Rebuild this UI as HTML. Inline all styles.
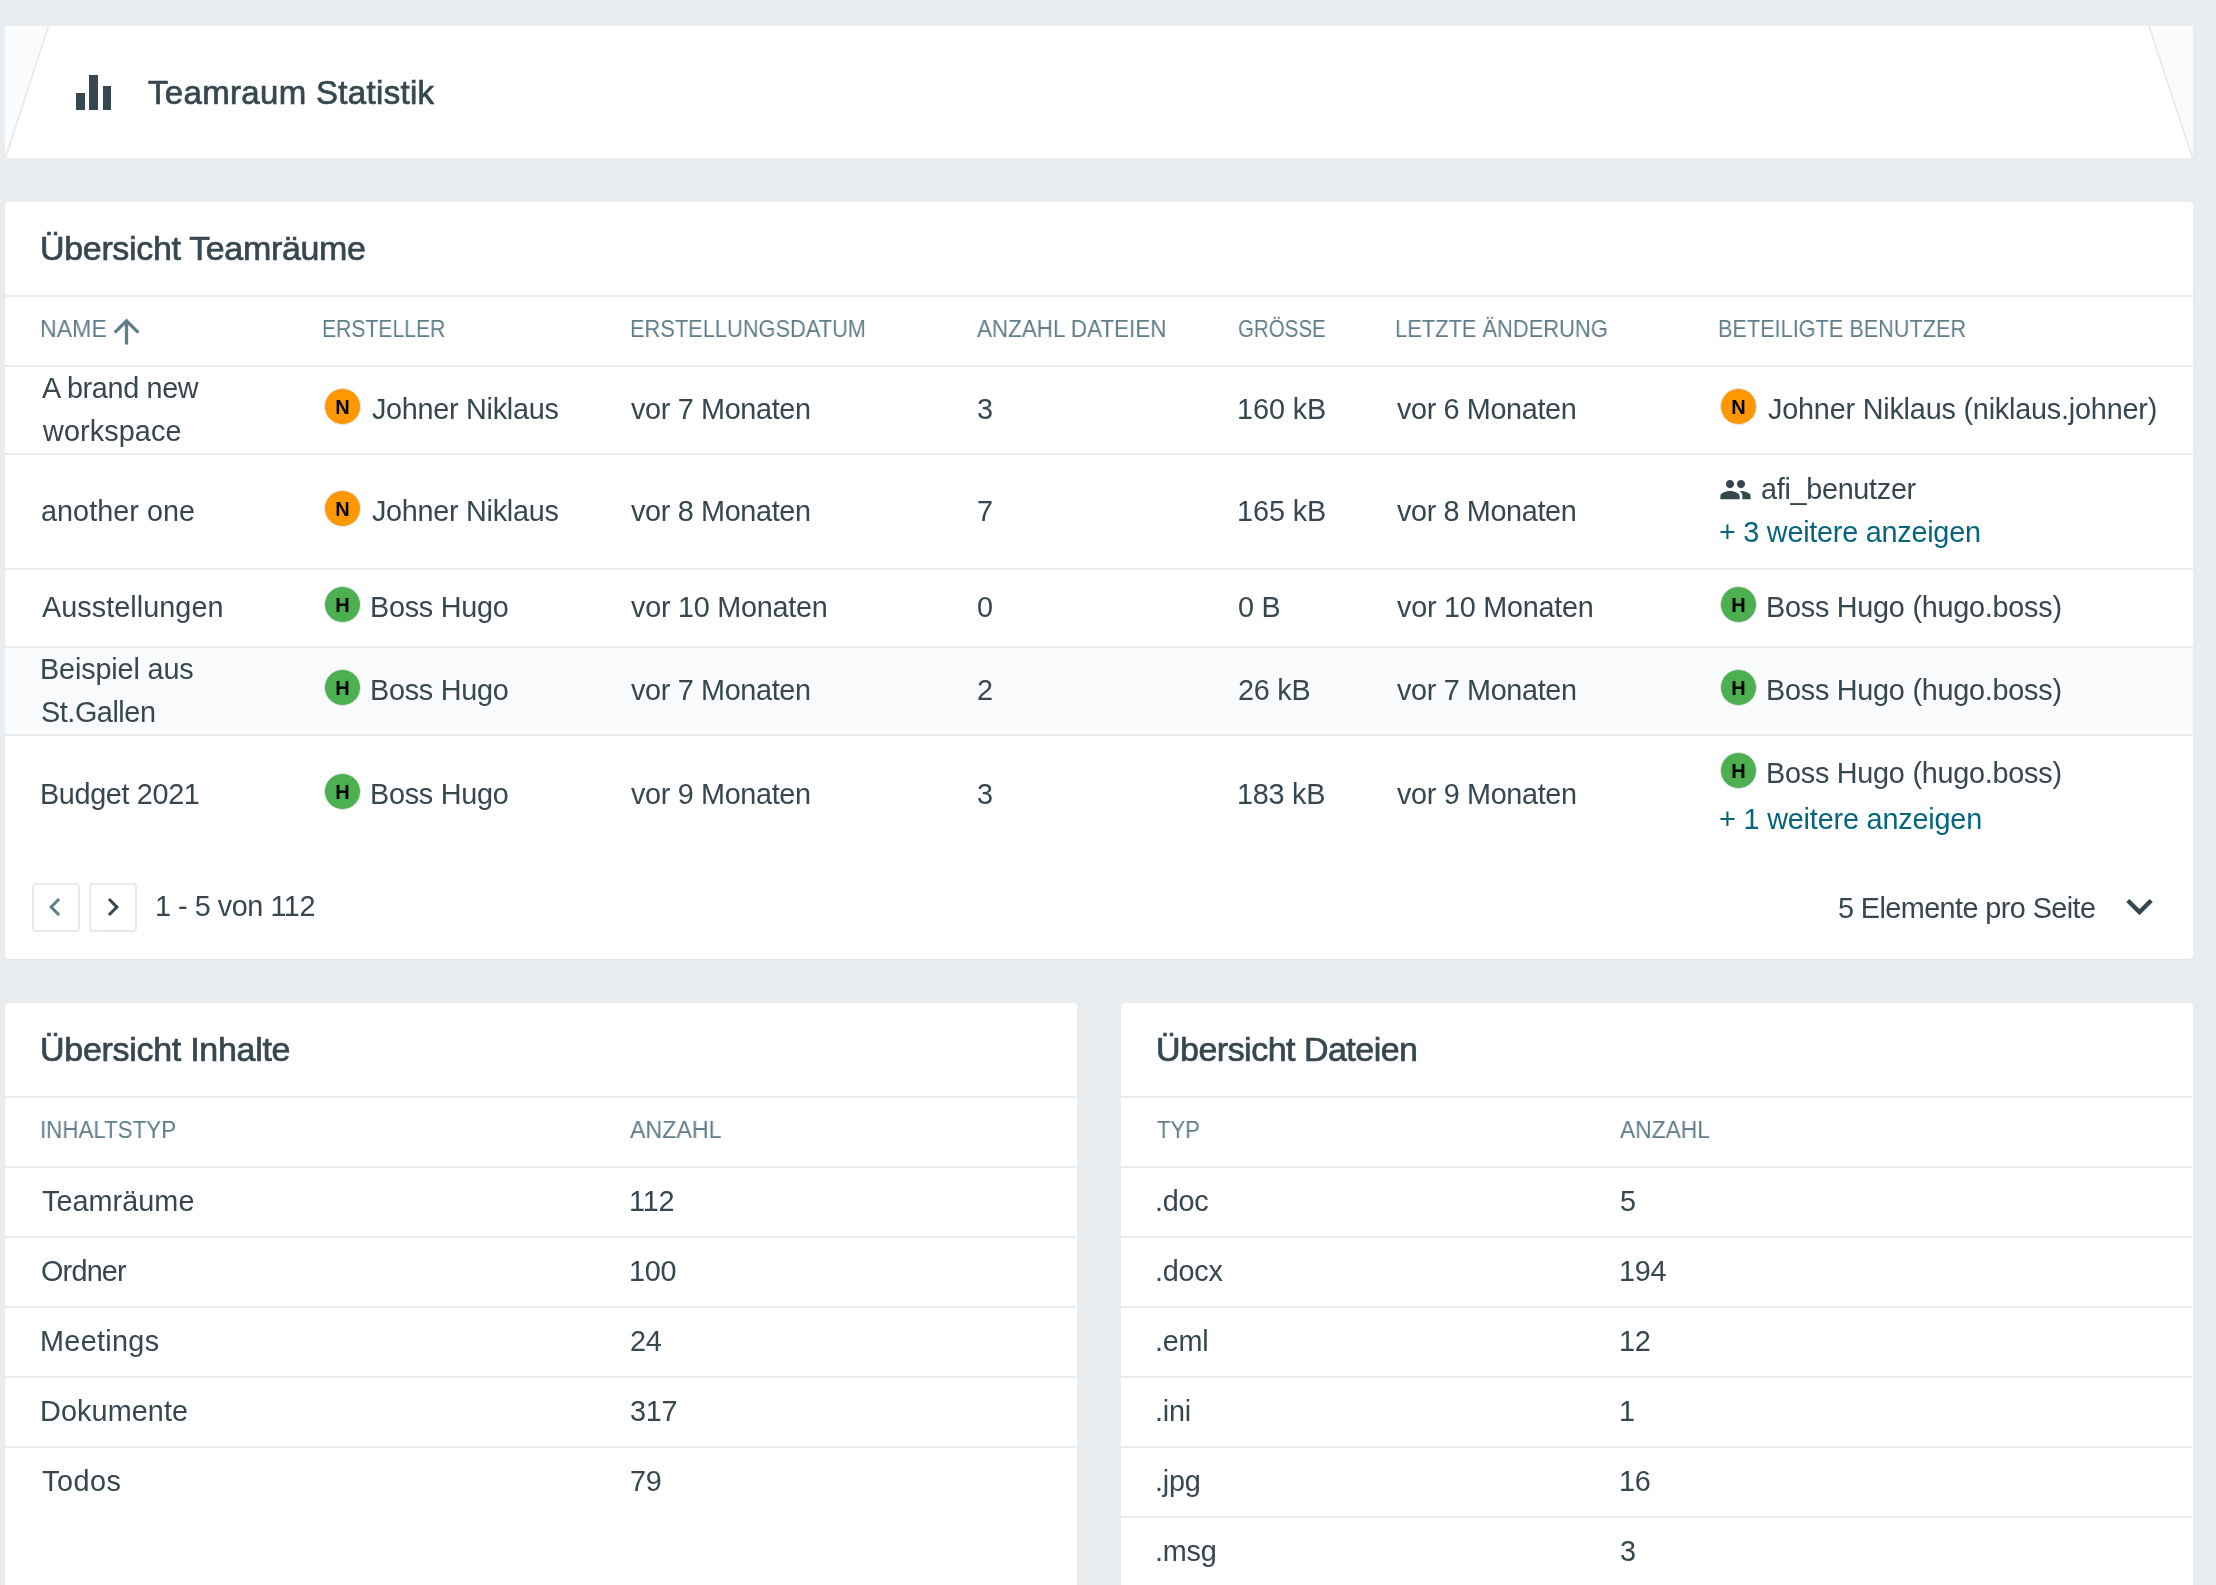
<!DOCTYPE html>
<html><head><meta charset="utf-8"><title>Teamraum Statistik</title>
<style>
html,body{margin:0;padding:0;}
body{width:2216px;height:1585px;overflow:hidden;background:#e9edf0;position:relative;font-family:"Liberation Sans",sans-serif;}
.t{position:absolute;white-space:nowrap;will-change:transform;}
.r{position:absolute;}
.ic{position:absolute;}
.card{position:absolute;background:#fff;border-radius:4px;box-shadow:0 1px 1px rgba(40,60,80,0.05);overflow:hidden;}
.av{position:absolute;width:35px;height:35px;border-radius:50%;border:1.25px solid #e3eaf1;box-sizing:content-box;background-clip:padding-box;will-change:transform;}
.av span{position:absolute;left:0;right:0;top:1px;text-align:center;font-weight:bold;font-size:20px;line-height:35px;color:#000;}
.pbtn{position:absolute;width:44px;height:45px;border:2px solid #e6ebef;border-radius:4px;background:#fff;box-sizing:content-box;}
</style></head><body>
<div class="card hdr" style="left:5px;top:26px;width:2188px;height:132px;border-radius:0;box-shadow:none"><svg width="2188" height="132" style="position:absolute;left:0;top:0"><polygon points="0,0 43.5,0 0,132" fill="#fafbfc"/><line x1="43.5" y1="0" x2="0.5" y2="132" stroke="#e4e8eb" stroke-width="1.5"/><polygon points="2144,0 2188,0 2188,132" fill="#fafbfc"/><line x1="2144" y1="0" x2="2187.5" y2="132" stroke="#e4e8eb" stroke-width="1.5"/></svg></div>
<div class="r" style="left:76px;top:92.5px;width:8.6px;height:17.5px;background:#37474f;"></div>
<div class="r" style="left:89.3px;top:75px;width:8.6px;height:35px;background:#37474f;"></div>
<div class="r" style="left:102.6px;top:86.2px;width:8.6px;height:23.8px;background:#37474f;"></div>
<div class="t" style="left:147.55px;top:76.00px;font-size:33px;line-height:33px;color:#37474f;letter-spacing:0.325px;-webkit-text-stroke:0.7px #37474f">Teamraum Statistik</div>
<div class="card" style="left:5px;top:202px;width:2188px;height:757px"></div>
<div class="r" style="left:5px;top:648px;width:2188px;height:86px;background:#fafbfd;"></div>
<div class="r" style="left:5px;top:295px;width:2188px;height:2px;background:#e9edf0;"></div>
<div class="r" style="left:5px;top:365px;width:2188px;height:2px;background:#e9edf0;"></div>
<div class="r" style="left:5px;top:453px;width:2188px;height:2px;background:#e9edf0;"></div>
<div class="r" style="left:5px;top:568px;width:2188px;height:2px;background:#e9edf0;"></div>
<div class="r" style="left:5px;top:646px;width:2188px;height:2px;background:#e9edf0;"></div>
<div class="r" style="left:5px;top:734px;width:2188px;height:2px;background:#e9edf0;"></div>
<div class="t" style="left:39.55px;top:231.00px;font-size:34px;line-height:34px;color:#37474f;letter-spacing:-0.331px;-webkit-text-stroke:0.7px #37474f">Übersicht Teamräume</div>
<div class="t" style="left:39.81px;top:317.00px;font-size:24.5px;line-height:24.5px;color:#607d8b;transform:scaleX(0.9438);transform-origin:0 0">NAME</div>
<div class="t" style="left:322.17px;top:317.00px;font-size:24.5px;line-height:24.5px;color:#607d8b;transform:scaleX(0.8626);transform-origin:0 0">ERSTELLER</div>
<div class="t" style="left:629.92px;top:317.00px;font-size:24.5px;line-height:24.5px;color:#607d8b;transform:scaleX(0.8903);transform-origin:0 0">ERSTELLUNGSDATUM</div>
<div class="t" style="left:977.10px;top:317.00px;font-size:24.5px;line-height:24.5px;color:#607d8b;transform:scaleX(0.9154);transform-origin:0 0">ANZAHL DATEIEN</div>
<div class="t" style="left:1238.06px;top:317.00px;font-size:24.5px;line-height:24.5px;color:#607d8b;transform:scaleX(0.8368);transform-origin:0 0">GRÖSSE</div>
<div class="t" style="left:1395.31px;top:317.00px;font-size:24.5px;line-height:24.5px;color:#607d8b;transform:scaleX(0.8930);transform-origin:0 0">LETZTE ÄNDERUNG</div>
<div class="t" style="left:1717.73px;top:317.00px;font-size:24.5px;line-height:24.5px;color:#607d8b;transform:scaleX(0.8846);transform-origin:0 0">BETEILIGTE BENUTZER</div>
<svg class="ic" style="left:107.3px;top:311.5px" width="39" height="39" viewBox="0 0 24 24"><path fill="#607d8b" d="M4 12l1.41 1.41L11 7.83V20h2V7.83l5.58 5.59L20 12l-8-8-8 8z"/></svg>
<div class="t" style="left:41.50px;top:374.00px;font-size:28.8px;line-height:28.8px;color:#37474f;letter-spacing:-0.349px">A brand new</div>
<div class="t" style="left:42.50px;top:417.00px;font-size:28.8px;line-height:28.8px;color:#37474f;letter-spacing:0.109px">workspace</div>
<div class="av" style="left:323.65px;top:388.25px;background:#ff9800"><span>N</span></div>
<div class="t" style="left:372.00px;top:395.00px;font-size:28.8px;line-height:28.8px;color:#37474f;letter-spacing:-0.282px">Johner Niklaus</div>
<div class="t" style="left:631.10px;top:395.00px;font-size:28.8px;line-height:28.8px;color:#37474f;letter-spacing:-0.339px">vor 7 Monaten</div>
<div class="t" style="left:976.50px;top:395.00px;font-size:28.8px;line-height:28.8px;color:#37474f">3</div>
<div class="t" style="left:1236.90px;top:395.00px;font-size:28.8px;line-height:28.8px;color:#37474f;letter-spacing:-0.069px">160 kB</div>
<div class="t" style="left:1397.10px;top:395.00px;font-size:28.8px;line-height:28.8px;color:#37474f;letter-spacing:-0.364px">vor 6 Monaten</div>
<div class="av" style="left:1719.55px;top:388.25px;background:#ff9800"><span>N</span></div>
<div class="t" style="left:1768.40px;top:395.00px;font-size:28.8px;line-height:28.8px;color:#37474f;letter-spacing:-0.202px">Johner Niklaus (niklaus.johner)</div>
<div class="t" style="left:40.50px;top:497.00px;font-size:28.8px;line-height:28.8px;color:#37474f;letter-spacing:0.030px">another one</div>
<div class="av" style="left:323.65px;top:490.25px;background:#ff9800"><span>N</span></div>
<div class="t" style="left:372.00px;top:497.00px;font-size:28.8px;line-height:28.8px;color:#37474f;letter-spacing:-0.282px">Johner Niklaus</div>
<div class="t" style="left:631.10px;top:497.00px;font-size:28.8px;line-height:28.8px;color:#37474f;letter-spacing:-0.339px">vor 8 Monaten</div>
<div class="t" style="left:976.50px;top:497.00px;font-size:28.8px;line-height:28.8px;color:#37474f">7</div>
<div class="t" style="left:1236.90px;top:497.00px;font-size:28.8px;line-height:28.8px;color:#37474f;letter-spacing:-0.069px">165 kB</div>
<div class="t" style="left:1397.10px;top:497.00px;font-size:28.8px;line-height:28.8px;color:#37474f;letter-spacing:-0.364px">vor 8 Monaten</div>
<svg class="ic" style="left:1719px;top:473px" width="33" height="33" viewBox="0 0 24 24"><path fill="#37474f" d="M16 11c1.66 0 2.99-1.34 2.99-3S17.660 5 16 5c-1.66 0-3 1.34-3 3s1.34 3 3 3zm-8 0c1.66 0 2.99-1.34 2.990-3S9.66 5 8 5C6.34 5 5 6.34 5 8s1.34 3 3 3zm0 2c-2.33 0-7 1.17-7 3.5V19h14v-2.5c0-2.33-4.67-3.5-7-3.5zm8 0c-.29 0-.62.02-.97.05 1.16.84 1.97 1.97 1.97 3.45V19h6v-2.5c0-2.33-4.67-3.5-7-3.5z"/></svg>
<div class="t" style="left:1761.00px;top:475.00px;font-size:28.8px;line-height:28.8px;color:#37474f;letter-spacing:-0.301px">afi_benutzer</div>
<div class="t" style="left:1718.60px;top:518.00px;font-size:28.8px;line-height:28.8px;color:#05657d;letter-spacing:-0.244px">+ 3 weitere anzeigen</div>
<div class="t" style="left:41.50px;top:593.00px;font-size:28.8px;line-height:28.8px;color:#37474f;letter-spacing:0.051px">Ausstellungen</div>
<div class="av" style="left:323.65px;top:586.25px;background:#4caf50"><span>H</span></div>
<div class="t" style="left:370.00px;top:593.00px;font-size:28.8px;line-height:28.8px;color:#37474f;letter-spacing:-0.250px">Boss Hugo</div>
<div class="t" style="left:631.10px;top:593.00px;font-size:28.8px;line-height:28.8px;color:#37474f;letter-spacing:-0.250px">vor 10 Monaten</div>
<div class="t" style="left:976.50px;top:593.00px;font-size:28.8px;line-height:28.8px;color:#37474f">0</div>
<div class="t" style="left:1237.90px;top:593.00px;font-size:28.8px;line-height:28.8px;color:#37474f;letter-spacing:-0.250px">0 B</div>
<div class="t" style="left:1397.10px;top:593.00px;font-size:28.8px;line-height:28.8px;color:#37474f;letter-spacing:-0.250px">vor 10 Monaten</div>
<div class="av" style="left:1719.55px;top:586.25px;background:#4caf50"><span>H</span></div>
<div class="t" style="left:1766.40px;top:593.00px;font-size:28.8px;line-height:28.8px;color:#37474f;letter-spacing:-0.247px">Boss Hugo (hugo.boss)</div>
<div class="t" style="left:39.50px;top:655.00px;font-size:28.8px;line-height:28.8px;color:#37474f;letter-spacing:-0.143px">Beispiel aus</div>
<div class="t" style="left:40.50px;top:698.00px;font-size:28.8px;line-height:28.8px;color:#37474f;letter-spacing:-0.442px">St.Gallen</div>
<div class="av" style="left:323.65px;top:669.25px;background:#4caf50"><span>H</span></div>
<div class="t" style="left:370.00px;top:676.00px;font-size:28.8px;line-height:28.8px;color:#37474f;letter-spacing:-0.250px">Boss Hugo</div>
<div class="t" style="left:631.10px;top:676.00px;font-size:28.8px;line-height:28.8px;color:#37474f;letter-spacing:-0.339px">vor 7 Monaten</div>
<div class="t" style="left:976.50px;top:676.00px;font-size:28.8px;line-height:28.8px;color:#37474f">2</div>
<div class="t" style="left:1237.90px;top:676.00px;font-size:28.8px;line-height:28.8px;color:#37474f;letter-spacing:-0.250px">26 kB</div>
<div class="t" style="left:1397.10px;top:676.00px;font-size:28.8px;line-height:28.8px;color:#37474f;letter-spacing:-0.339px">vor 7 Monaten</div>
<div class="av" style="left:1719.55px;top:669.25px;background:#4caf50"><span>H</span></div>
<div class="t" style="left:1766.40px;top:676.00px;font-size:28.8px;line-height:28.8px;color:#37474f;letter-spacing:-0.247px">Boss Hugo (hugo.boss)</div>
<div class="t" style="left:39.50px;top:780.00px;font-size:28.8px;line-height:28.8px;color:#37474f;letter-spacing:-0.352px">Budget 2021</div>
<div class="av" style="left:323.65px;top:773.25px;background:#4caf50"><span>H</span></div>
<div class="t" style="left:370.00px;top:780.00px;font-size:28.8px;line-height:28.8px;color:#37474f;letter-spacing:-0.250px">Boss Hugo</div>
<div class="t" style="left:631.10px;top:780.00px;font-size:28.8px;line-height:28.8px;color:#37474f;letter-spacing:-0.339px">vor 9 Monaten</div>
<div class="t" style="left:976.50px;top:780.00px;font-size:28.8px;line-height:28.8px;color:#37474f">3</div>
<div class="t" style="left:1236.90px;top:780.00px;font-size:28.8px;line-height:28.8px;color:#37474f;letter-spacing:-0.250px">183 kB</div>
<div class="t" style="left:1397.10px;top:780.00px;font-size:28.8px;line-height:28.8px;color:#37474f;letter-spacing:-0.339px">vor 9 Monaten</div>
<div class="av" style="left:1719.55px;top:752.25px;background:#4caf50"><span>H</span></div>
<div class="t" style="left:1766.40px;top:759.00px;font-size:28.8px;line-height:28.8px;color:#37474f;letter-spacing:-0.247px">Boss Hugo (hugo.boss)</div>
<div class="t" style="left:1718.60px;top:805.00px;font-size:28.8px;line-height:28.8px;color:#05657d;letter-spacing:-0.176px">+ 1 weitere anzeigen</div>
<div class="pbtn" style="left:32px;top:882.5px"></div>
<div class="pbtn" style="left:89px;top:882.5px"></div>
<svg class="ic" style="left:37px;top:889px" width="36" height="36" viewBox="0 0 24 24"><path fill="#607d8b" d="M15.41 7.41L14 6l-6 6 6 6 1.41-1.41L10.83 12z"/></svg>
<svg class="ic" style="left:95px;top:889px" width="36" height="36" viewBox="0 0 24 24"><path fill="#37474f" d="M10 6L8.59 7.41 13.17 12l-4.58 4.59L10 18l6-6z"/></svg>
<div class="t" style="left:154.50px;top:892.00px;font-size:28.8px;line-height:28.8px;color:#37474f;letter-spacing:-0.462px">1 - 5 von 112</div>
<div class="t" style="left:1838.20px;top:894.00px;font-size:28.8px;line-height:28.8px;color:#37474f;letter-spacing:-0.574px">5 Elemente pro Seite</div>
<svg class="ic" style="left:2112.7px;top:879.7px" width="53" height="53" viewBox="0 0 24 24"><path fill="#37474f" d="M16.59 8.59L12 13.17 7.41 8.59 6 10l6 6 6-6z"/></svg>
<div class="card" style="left:5px;top:1003px;width:1072px;height:700px"></div>
<div class="r" style="left:5px;top:1096px;width:1071px;height:2px;background:#e9edf0;"></div>
<div class="r" style="left:5px;top:1166px;width:1071px;height:2px;background:#e9edf0;"></div>
<div class="r" style="left:5px;top:1236px;width:1071px;height:2px;background:#e9edf0;"></div>
<div class="r" style="left:5px;top:1306px;width:1071px;height:2px;background:#e9edf0;"></div>
<div class="r" style="left:5px;top:1376px;width:1071px;height:2px;background:#e9edf0;"></div>
<div class="r" style="left:5px;top:1446px;width:1071px;height:2px;background:#e9edf0;"></div>
<div class="t" style="left:40.45px;top:1032.00px;font-size:34px;line-height:34px;color:#37474f;letter-spacing:-0.289px;-webkit-text-stroke:0.7px #37474f">Übersicht Inhalte</div>
<div class="t" style="left:40.18px;top:1118.00px;font-size:24.5px;line-height:24.5px;color:#607d8b;transform:scaleX(0.9118);transform-origin:0 0">INHALTSTYP</div>
<div class="t" style="left:630.00px;top:1118.00px;font-size:24.5px;line-height:24.5px;color:#607d8b;transform:scaleX(0.9476);transform-origin:0 0">ANZAHL</div>
<div class="t" style="left:41.50px;top:1187.00px;font-size:28.8px;line-height:28.8px;color:#37474f;letter-spacing:0.047px">Teamräume</div>
<div class="t" style="left:629.00px;top:1187.00px;font-size:28.8px;line-height:28.8px;color:#37474f;letter-spacing:-0.250px">112</div>
<div class="t" style="left:40.50px;top:1257.00px;font-size:28.8px;line-height:28.8px;color:#37474f;letter-spacing:-0.787px">Ordner</div>
<div class="t" style="left:629.00px;top:1257.00px;font-size:28.8px;line-height:28.8px;color:#37474f;letter-spacing:-0.250px">100</div>
<div class="t" style="left:39.50px;top:1327.00px;font-size:28.8px;line-height:28.8px;color:#37474f;letter-spacing:0.322px">Meetings</div>
<div class="t" style="left:630.00px;top:1327.00px;font-size:28.8px;line-height:28.8px;color:#37474f;letter-spacing:-0.250px">24</div>
<div class="t" style="left:39.50px;top:1397.00px;font-size:28.8px;line-height:28.8px;color:#37474f;letter-spacing:0.107px">Dokumente</div>
<div class="t" style="left:630.00px;top:1397.00px;font-size:28.8px;line-height:28.8px;color:#37474f;letter-spacing:-0.250px">317</div>
<div class="t" style="left:41.50px;top:1467.00px;font-size:28.8px;line-height:28.8px;color:#37474f;letter-spacing:0.539px">Todos</div>
<div class="t" style="left:630.00px;top:1467.00px;font-size:28.8px;line-height:28.8px;color:#37474f;letter-spacing:-0.250px">79</div>
<div class="card" style="left:1121px;top:1003px;width:1072px;height:700px"></div>
<div class="r" style="left:1121px;top:1096px;width:1071px;height:2px;background:#e9edf0;"></div>
<div class="r" style="left:1121px;top:1166px;width:1071px;height:2px;background:#e9edf0;"></div>
<div class="r" style="left:1121px;top:1236px;width:1071px;height:2px;background:#e9edf0;"></div>
<div class="r" style="left:1121px;top:1306px;width:1071px;height:2px;background:#e9edf0;"></div>
<div class="r" style="left:1121px;top:1376px;width:1071px;height:2px;background:#e9edf0;"></div>
<div class="r" style="left:1121px;top:1446px;width:1071px;height:2px;background:#e9edf0;"></div>
<div class="r" style="left:1121px;top:1516px;width:1071px;height:2px;background:#e9edf0;"></div>
<div class="t" style="left:1155.95px;top:1032.00px;font-size:34px;line-height:34px;color:#37474f;letter-spacing:-0.514px;-webkit-text-stroke:0.7px #37474f">Übersicht Dateien</div>
<div class="t" style="left:1157.10px;top:1118.00px;font-size:24.5px;line-height:24.5px;color:#607d8b;transform:scaleX(0.9000);transform-origin:0 0">TYP</div>
<div class="t" style="left:1620.10px;top:1118.00px;font-size:24.5px;line-height:24.5px;color:#607d8b;transform:scaleX(0.9309);transform-origin:0 0">ANZAHL</div>
<div class="t" style="left:1155.00px;top:1187.00px;font-size:28.8px;line-height:28.8px;color:#37474f;letter-spacing:-0.250px">.doc</div>
<div class="t" style="left:1619.50px;top:1187.00px;font-size:28.8px;line-height:28.8px;color:#37474f">5</div>
<div class="t" style="left:1155.00px;top:1257.00px;font-size:28.8px;line-height:28.8px;color:#37474f;letter-spacing:-0.250px">.docx</div>
<div class="t" style="left:1618.50px;top:1257.00px;font-size:28.8px;line-height:28.8px;color:#37474f;letter-spacing:-0.250px">194</div>
<div class="t" style="left:1155.00px;top:1327.00px;font-size:28.8px;line-height:28.8px;color:#37474f;letter-spacing:-0.250px">.eml</div>
<div class="t" style="left:1618.50px;top:1327.00px;font-size:28.8px;line-height:28.8px;color:#37474f;letter-spacing:-0.250px">12</div>
<div class="t" style="left:1155.00px;top:1397.00px;font-size:28.8px;line-height:28.8px;color:#37474f;letter-spacing:-0.250px">.ini</div>
<div class="t" style="left:1618.50px;top:1397.00px;font-size:28.8px;line-height:28.8px;color:#37474f">1</div>
<div class="t" style="left:1155.00px;top:1467.00px;font-size:28.8px;line-height:28.8px;color:#37474f;letter-spacing:-0.250px">.jpg</div>
<div class="t" style="left:1618.50px;top:1467.00px;font-size:28.8px;line-height:28.8px;color:#37474f;letter-spacing:-0.250px">16</div>
<div class="t" style="left:1155.00px;top:1537.00px;font-size:28.8px;line-height:28.8px;color:#37474f;letter-spacing:-0.250px">.msg</div>
<div class="t" style="left:1619.50px;top:1537.00px;font-size:28.8px;line-height:28.8px;color:#37474f">3</div>
</body></html>
